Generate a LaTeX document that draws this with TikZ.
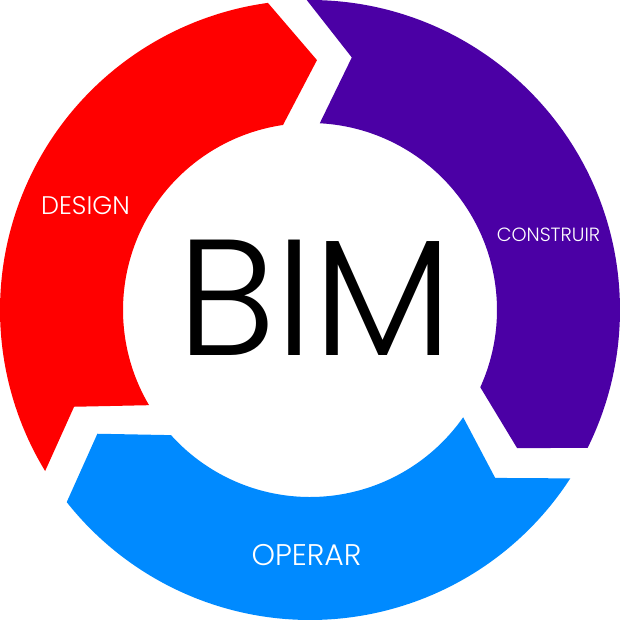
\documentclass[tikz,border=0pt]{standalone}
\usepackage{fontspec}
\setmainfont{Poppins}
\newfontfamily\thinfont{Poppins Light}
\usepackage{tikz}
\definecolor{designred}{RGB}{255,0,0}
\definecolor{buildpurple}{RGB}{75,0,165}
\definecolor{operblue}{RGB}{0,138,255}

\begin{document}
\begin{tikzpicture}[
  band/.style={draw=none},
  lbl/.style={text=white,inner sep=0pt,anchor=base},
  core/.style={text=black,inner sep=0pt,anchor=base,font=\thinfont\fontsize{94}{94}\selectfont}]
\useasboundingbox (-6.2,-6.2) rectangle (6.2,6.2);

% design
\fill[band,designred] (211.3:6.2) arc[start angle=211.3,end angle=97.8,radius=6.2]
  -- (88.4:5.0) -- (98.3:3.74) arc[start angle=98.3,end angle=210.6,radius=3.74]
  -- (202.3:5.1) -- cycle;
% construir
\fill[band,buildpurple] (90.6:6.2) arc[start angle=90.6,end angle=-26.4,radius=6.2]
  -- (-33.7:4.98) -- (-24.4:3.74) arc[start angle=-24.4,end angle=87,radius=3.74]
  -- (80.6:5.12) -- cycle;
% operar
\fill[band,operblue] (-32.9:6.2) arc[start angle=-32.9,end angle=-141.7,radius=6.2]
  -- (-149.8:4.92) -- (-138:3.74) arc[start angle=-138,end angle=-35,radius=3.74]
  -- (-42.2:5.0) -- cycle;

\node[lbl,font=\thinfont\fontsize{14.5}{15}\selectfont] (design) at (-4.49,1.92) {DESIGN};
\node[lbl,font=\thinfont\fontsize{10.9}{11}\selectfont] (construir) at (4.77,1.38) {CONSTRUIR};
\node[lbl,font=\thinfont\fontsize{17}{18}\selectfont] (operar) at (-0.07,-5.1) {OPERAR};
\node[core] (bim) at (0.1,-0.9) {BIM};
\end{tikzpicture}
\end{document}
